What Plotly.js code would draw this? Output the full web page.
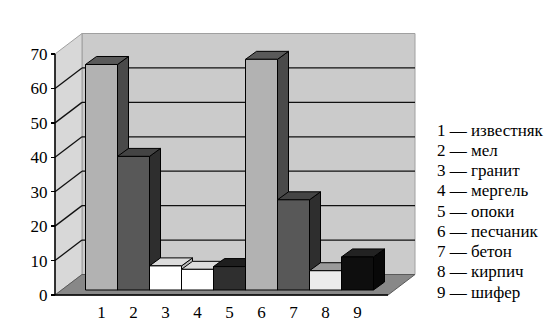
<!DOCTYPE html>
<html><head><meta charset="utf-8">
<script src="https://cdn.plot.ly/plotly-3.0.1.min.js"></script>
<style>html,body{margin:0;padding:0;background:#fff}#chart{width:559px;height:324px}</style>
</head><body><div id="chart"></div>
<script>
// ---- data ----
const categories = [1, 2, 3, 4, 5, 6, 7, 8, 9];
const materials = ['известняк', 'мел', 'гранит', 'мергель', 'опоки', 'песчаник', 'бетон', 'кирпич', 'шифер'];
const values = [65.5, 38.8, 7.0, 6.0, 6.8, 67.0, 26.2, 5.6, 9.6];
const yTicks = [0, 10, 20, 30, 40, 50, 60, 70];

// ---- styles ----
const frontColors = ['#b2b2b2', '#585858', '#ffffff', '#ffffff', '#2f2f2f', '#b2b2b2', '#585858', '#ececec', '#0e0e0e'];
const topColors   = ['#5a5a5a', '#444444', '#dcdcdc', '#dcdcdc', '#1e1e1e', '#5a5a5a', '#444444', '#9a9a9a', '#222222'];
const sideColors  = ['#4a4a4a', '#2e2e2e', '#b8b8b8', '#b8b8b8', '#151515', '#4a4a4a', '#2e2e2e', '#8a8a8a', '#080808'];
const FONT = '"Liberation Serif", "Times New Roman", serif';

// ---- geometry (pixels) ----
const W = 559, H = 324;
const PL = 48, PR = 422, PT = 28, PB = 300;     // plot area box
const AX0 = 55, AY0 = 295;                      // front axis origin
const PXY = 241 / 70;                           // px per value unit
const PXX = 32;                                 // px per category
const BX1 = 101.5, BY0 = 290;                   // bar plane: centre of bar 1, base
const WDX = 27, WDY = 20.5 / PXY;               // wall depth (base x in px units)
const WALL_R = 360, FLOOR_R = 333;
const BDX = 11 / PXX, BDY = 8 / PXY;            // bar depth
const YTOP = 70;

const baseX = [PL - AX0, PR - AX0];
const baseY = [(AY0 - PB) / PXY, (AY0 - PT) / PXY];
const barX = [1 + (PL - BX1) / PXX, 1 + (PR - BX1) / PXX];
const barY = [(BY0 - PB) / PXY, (BY0 - PT) / PXY];

const traces = [];
traces.push({type: 'scatter', x: [0], y: [0], mode: 'markers', marker: {opacity: 0}, xaxis: 'x', yaxis: 'y', hoverinfo: 'skip'});
categories.forEach((c, i) => {
  const v = values[i], l = c - 0.5, r = c + 0.5;
  traces.push({type: 'scatter', xaxis: 'x2', yaxis: 'y2', mode: 'lines', fill: 'toself',
    x: [r, r + BDX, r + BDX, r, r], y: [0, BDY, v + BDY, v, 0],
    fillcolor: sideColors[i], line: {color: '#000', width: 1}, hoverinfo: 'skip'});
  traces.push({type: 'scatter', xaxis: 'x2', yaxis: 'y2', mode: 'lines', fill: 'toself',
    x: [l, r, r + BDX, l + BDX, l], y: [v, v, v + BDY, v + BDY, v],
    fillcolor: topColors[i], line: {color: '#000', width: 1}, hoverinfo: 'skip'});
});
traces.push({type: 'bar', xaxis: 'x3', yaxis: 'y3', x: categories, y: values, width: 1,
  marker: {color: frontColors, line: {color: '#000', width: 1}}, hoverinfo: 'skip'});

const shapes = [];
const L = (o) => Object.assign({xref: 'x', yref: 'y', layer: 'below'}, o);
shapes.push(L({type: 'rect', x0: WDX, x1: WALL_R, y0: WDY, y1: YTOP + WDY, fillcolor: '#cbcbcb', line: {color: '#a0a0a0', width: 1}}));
shapes.push(L({type: 'path', path: `M0,0 L${WDX},${WDY} L${WDX},${YTOP + WDY} L0,${YTOP} Z`, fillcolor: '#d8d8d8', line: {color: '#a0a0a0', width: 1}}));
shapes.push(L({type: 'path', path: `M0,0 L${FLOOR_R},0 L${WALL_R},${WDY} L${WDX},${WDY} Z`, fillcolor: '#888888', line: {color: '#5a5a5a', width: 1}}));
yTicks.filter(t => t > 0 && t < YTOP).forEach(t => {
  shapes.push(L({type: 'line', x0: 0, y0: t, x1: WDX, y1: t + WDY, line: {color: '#111', width: 1.3}}));
  shapes.push(L({type: 'line', x0: WDX, y0: t + WDY, x1: WALL_R, y1: t + WDY, line: {color: '#111', width: 1.3}}));
});
shapes.push(L({type: 'line', x0: 0, y0: 0, x1: 0, y1: YTOP, line: {color: '#000', width: 1.5}}));
shapes.push(L({type: 'line', x0: 0, y0: 0, x1: FLOOR_R, y1: 0, line: {color: '#000', width: 1.5}}));

const annotations = categories.map((c, i) => ({
  xref: 'paper', yref: 'paper', x: (435 - PL) / (PR - PL), y: (PB - (130 + 20.25 * i)) / (PB - PT),
  xanchor: 'left', yanchor: 'middle', showarrow: false,
  text: `${c} — ${materials[i]}`, font: {family: FONT, size: 17, color: '#000'}
}));

const hidden = {showgrid: false, zeroline: false, showline: false, showticklabels: false, ticks: ''};
const layout = {
  width: W, height: H,
  margin: {l: PL, r: W - PR, t: PT, b: H - PB, pad: 0},
  paper_bgcolor: '#fff', plot_bgcolor: 'rgba(0,0,0,0)',
  showlegend: false, hovermode: false,
  font: {family: FONT, size: 17, color: '#000'},
  xaxis: Object.assign({}, hidden, {range: baseX, fixedrange: true}),
  yaxis: {range: baseY, tickvals: yTicks, ticktext: yTicks.map(String), ticks: 'outside', ticklen: 4, tickcolor: '#000', tickwidth: 1.3,
    anchor: 'free', position: (AX0 - PL) / (PR - PL),
    showgrid: false, zeroline: false, showline: false, tickfont: {family: FONT, size: 17, color: '#000'}, fixedrange: true},
  xaxis2: Object.assign({}, hidden, {range: barX, overlaying: 'x', anchor: 'y2'}),
  yaxis2: Object.assign({}, hidden, {range: barY, overlaying: 'y', anchor: 'x2'}),
  xaxis3: {range: barX, overlaying: 'x', anchor: 'y3', tickvals: categories, ticktext: categories.map(String),
    ticks: '', showgrid: false, zeroline: false, showline: false, tickfont: {family: FONT, size: 17, color: '#000'}},
  yaxis3: Object.assign({}, hidden, {range: barY, overlaying: 'y', anchor: 'x3'}),
  shapes: shapes, annotations: annotations
};
Plotly.newPlot('chart', traces, layout, {staticPlot: true, displayModeBar: false});
</script></body></html>
